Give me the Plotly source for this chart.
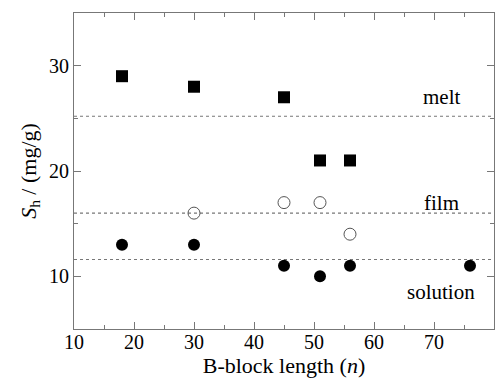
import plotly.graph_objects as go

# Data
melt_n = [18, 30, 45, 51, 56]
melt_s = [29, 28, 27, 21, 21]
film_n = [30, 45, 51, 56]
film_s = [16, 17, 17, 14]
sol_n = [18, 30, 45, 51, 56, 76]
sol_s = [13, 13, 11, 10, 11, 11]
ref_levels = [25.2, 16.0, 11.6]
labels = ["melt", "film", "solution"]
label_x = [71.2, 71.2, 71.2]
label_y = [27.0, 17.0, 8.5]

FONT = "Liberation Serif"
AX = "#777777"

fig = go.Figure()
fig.add_trace(go.Scatter(x=melt_n, y=melt_s, mode="markers",
                         marker=dict(symbol="square", size=12, color="black", line=dict(width=0))))
fig.add_trace(go.Scatter(x=film_n, y=film_s, mode="markers",
                         marker=dict(symbol="circle-open", size=12, color="#555555", line=dict(width=1))))
fig.add_trace(go.Scatter(x=sol_n, y=sol_s, mode="markers",
                         marker=dict(symbol="circle", size=12, color="black", line=dict(width=0))))

for lv in ref_levels:
    fig.add_shape(type="line", xref="paper", x0=0, x1=1, yref="y", y0=lv, y1=lv,
                  line=dict(color="#777777", width=1.2, dash="3px,3px"), layer="below")

for t, xv, yv in zip(labels, label_x, label_y):
    fig.add_annotation(x=xv, y=yv, text=t, showarrow=False, xref="x", yref="y",
                       xanchor="center", yanchor="middle",
                       font=dict(family=FONT, size=21, color="black"))

axis_common = dict(showline=True, linecolor=AX, linewidth=1, mirror="allticks",
                   ticks="inside", ticklen=7, tickcolor=AX, tickwidth=1,
                   showgrid=False, zeroline=False,
                   tickfont=dict(family=FONT, size=20, color="black"))

fig.update_xaxes(range=[10, 80], dtick=10, ticklabelstandoff=-5,
                 minor=dict(dtick=5, ticks="inside", ticklen=4, tickcolor=AX, showgrid=False),
                 title=dict(text="B-block length (<i>n</i>)", font=dict(family=FONT, size=22, color="black"),
                            standoff=4),
                 **axis_common)
fig.update_yaxes(range=[5, 35], dtick=10, tick0=0,
                 minor=dict(dtick=5, ticks="inside", ticklen=4, tickcolor=AX, showgrid=False),
                 title=dict(text="<i>S</i><sub>h</sub> / (mg/g)", font=dict(family=FONT, size=22, color="black"),
                            standoff=6),
                 **axis_common)

fig.update_layout(width=502, height=379, margin=dict(l=74, r=8, t=13, b=50, autoexpand=False),
                  plot_bgcolor="white", paper_bgcolor="white", showlegend=False,
                  font=dict(family=FONT))

fig.write_html("out.html", config={"displayModeBar": False},
               post_script="document.body.style.margin='0';document.body.style.overflow='hidden';")
